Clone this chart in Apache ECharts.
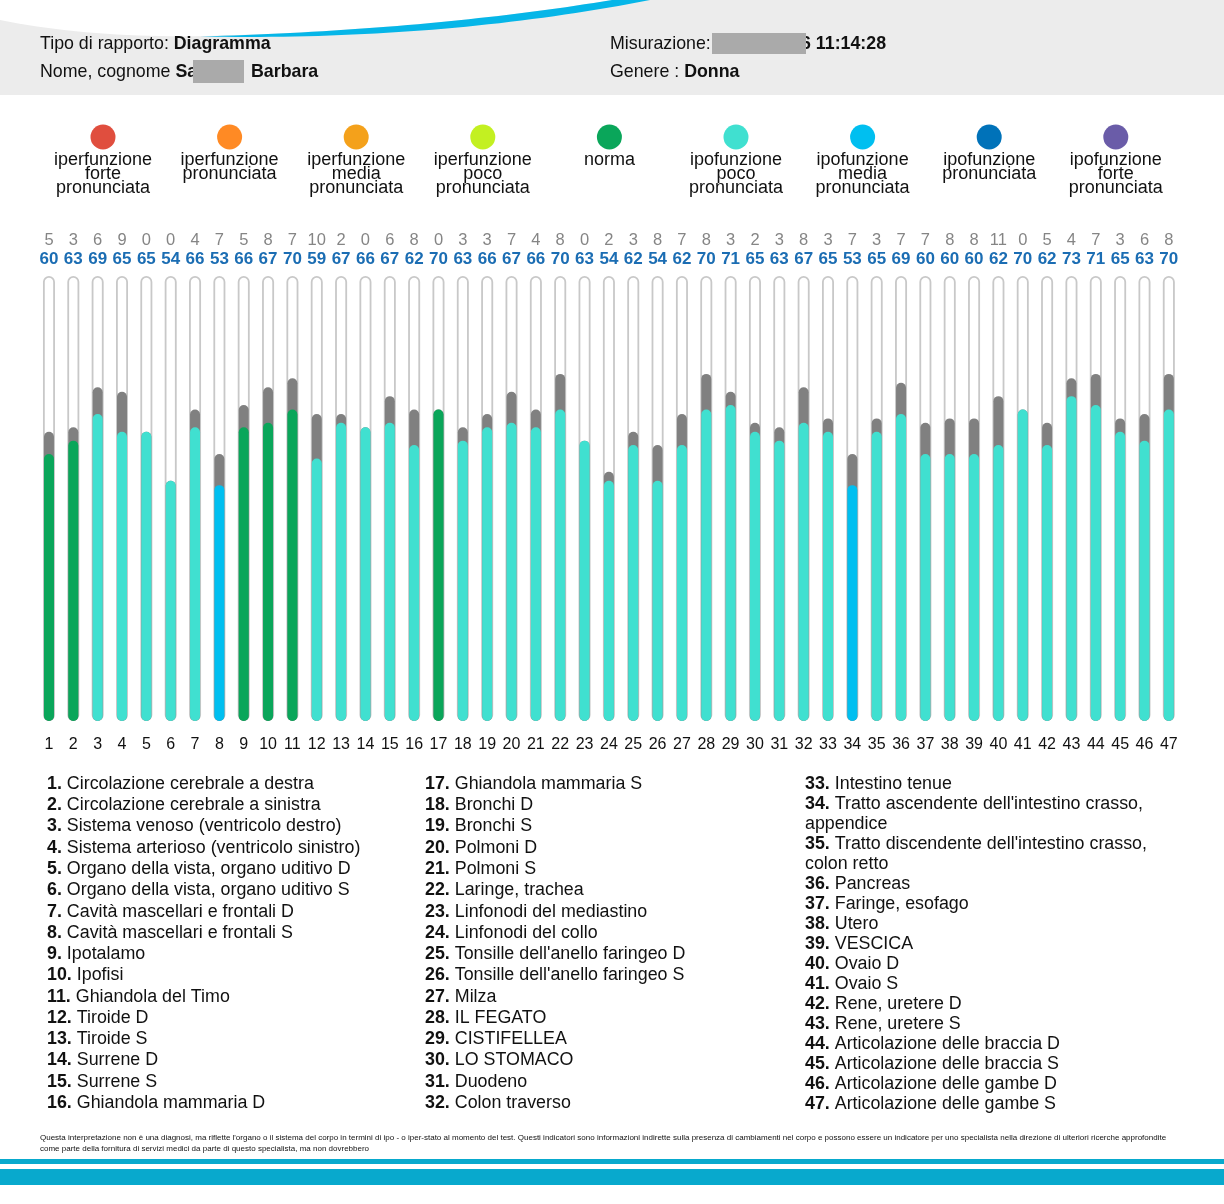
<!DOCTYPE html>
<html><head><meta charset="utf-8">
<script src="https://cdn.jsdelivr.net/npm/echarts@6/dist/echarts.min.js"></script>
<style>html,body{margin:0;padding:0;background:#fff}#c{width:1224px;height:1204px}</style>
</head><body><div id="c"></div>
<script>
// ---------- DATA ----------
const categories = ["1","2","3","4","5","6","7","8","9","10","11","12","13","14","15","16","17","18","19","20","21","22","23","24","25","26","27","28","29","30","31","32","33","34","35","36","37","38","39","40","41","42","43","44","45","46","47"];
const values = [60,63,69,65,65,54,66,53,66,67,70,59,67,66,67,62,70,63,66,67,66,70,63,54,62,54,62,70,71,65,63,67,65,53,65,69,60,60,60,62,70,62,73,71,65,63,70];
const deltas = [5,3,6,9,0,0,4,7,5,8,7,10,2,0,6,8,0,3,3,7,4,8,0,2,3,8,7,8,3,2,3,8,3,7,3,7,7,8,8,11,0,5,4,7,3,6,8];
// index into legend categories (4 = norma, 5 = ipofunzione poco, 6 = ipofunzione media)
const statusIdx = [4,4,5,5,5,5,5,6,4,4,4,5,5,5,5,5,4,5,5,5,5,5,5,5,5,5,5,5,5,5,5,5,5,6,5,5,5,5,5,5,5,5,5,5,5,5,5];
const SCALE_MAX = 100;
const legendNames = ["iperfunzione forte pronunciata","iperfunzione pronunciata","iperfunzione media pronunciata","iperfunzione poco pronunciata","norma","ipofunzione poco pronunciata","ipofunzione media pronunciata","ipofunzione pronunciata","ipofunzione forte pronunciata"];
const legendColors = ["#e04e3e","#ff8a24","#f4a11b","#c3f021","#0aa65a","#40e0d0","#00bff0","#0072b9","#6a5ca8"];
const organNames = ["Circolazione cerebrale a destra","Circolazione cerebrale a sinistra","Sistema venoso (ventricolo destro)","Sistema arterioso (ventricolo sinistro)","Organo della vista, organo uditivo D","Organo della vista, organo uditivo S","Cavità mascellari e frontali D","Cavità mascellari e frontali S","Ipotalamo","Ipofisi","Ghiandola del Timo","Tiroide D","Tiroide S","Surrene D","Surrene S","Ghiandola mammaria D","Ghiandola mammaria S","Bronchi D","Bronchi S","Polmoni D","Polmoni S","Laringe, trachea","Linfonodi del mediastino","Linfonodi del collo","Tonsille dell'anello faringeo D","Tonsille dell'anello faringeo S","Milza","IL FEGATO","CISTIFELLEA","LO STOMACO","Duodeno","Colon traverso","Intestino tenue","Tratto ascendente dell'intestino crasso, appendice","Tratto discendente dell'intestino crasso, colon retto","Pancreas","Faringe, esofago","Utero","VESCICA","Ovaio D","Ovaio S","Rene, uretere D","Rene, uretere S","Articolazione delle braccia D","Articolazione delle braccia S","Articolazione delle gambe D","Articolazione delle gambe S"];
const headerReportLabel = "Tipo di rapporto: ";
const headerReportValue = "Diagramma";
const headerNameLabel = "Nome, cognome ";
const headerNameA = "Sa";
const headerNameB = "Barbara";
const headerMeasureLabel = "Misurazione:";
const headerMeasureValue = "6 11:14:28";
const headerGenderLabel = "Genere : ";
const headerGenderValue = "Donna";
const footerLines = [
  "Questa interpretazione non è una diagnosi, ma riflette l'organo o il sistema del corpo in termini di ipo - o iper-stato al momento del test. Questi indicatori sono informazioni indirette sulla presenza di cambiamenti nel corpo e possono essere un indicatore per uno specialista nella direzione di ulteriori ricerche approfondite",
  "come parte della fornitura di servizi medici da parte di questo specialista, ma non dovrebbero"
];

// ---------- CHART ----------
const FONT = "'Liberation Sans', Arial, Helvetica, sans-serif";
const chart = echarts.init(document.getElementById('c'), null, {renderer: 'canvas'});

function quad(p0, p1, p2, n) {
  const pts = [];
  for (let k = 0; k <= n; k++) {
    const t = k / n, a = (1-t)*(1-t), b = 2*(1-t)*t, c = t*t;
    pts.push([a*p0[0]+b*p1[0]+c*p2[0], a*p0[1]+b*p1[1]+c*p2[1]]);
  }
  return pts;
}
const measureCtx = document.createElement('canvas').getContext('2d');
function textWidth(s, bold, size) {
  measureCtx.font = (bold ? 'bold ' : '') + size + 'px ' + FONT;
  return measureCtx.measureText(s).width;
}

const graphics = [];
graphics.push({type:'rect', shape:{x:0,y:0,width:1224,height:95}, style:{fill:'#ececec'}, z:0});
const whitePts = [[0,0],[0,20]].concat(quad([0,20],[90,38],[205,36],20)).concat(quad([205,36],[430,30],[612,0],40));
graphics.push({type:'polygon', shape:{points:whitePts}, style:{fill:'#ffffff'}, z:1});
const bluePts = quad([200,36.5],[430,30],[612,0],40).concat(quad([650,0],[440,41],[200,36.5],40));
graphics.push({type:'polygon', shape:{points:bluePts}, style:{fill:'#06b6e8'}, z:2});

const HS = 17.8;
const hdrRich = {r:{fontSize:HS, fontFamily:FONT, fill:'#111'}, b:{fontSize:HS, fontFamily:FONT, fontWeight:'bold', fill:'#111'}};
function hdrText(x, y, txt){
  graphics.push({type:'text', x:x, y:y, z:3, style:{text:txt, rich:hdrRich, verticalAlign:'middle', align:'left', fontFamily:FONT, fontSize:HS}});
}
hdrText(40, 44, '{r|' + headerReportLabel + '}{b|' + headerReportValue + '}');
hdrText(40, 72, '{r|' + headerNameLabel + '}{b|' + headerNameA + '}');
hdrText(251, 72, '{b|' + headerNameB + '}');
hdrText(610, 44, '{r|' + headerMeasureLabel + '}');
hdrText(801, 44, '{b|' + headerMeasureValue + '}');
hdrText(610, 72, '{r|' + headerGenderLabel + '}{b|' + headerGenderValue + '}');
graphics.push({type:'rect', shape:{x:712,y:33,width:94,height:21}, style:{fill:'#aaaaaa'}, z:4});
graphics.push({type:'rect', shape:{x:193,y:60,width:51,height:23}, style:{fill:'#aaaaaa'}, z:4});

// legend
legendNames.forEach((name, i) => {
  const cx = 103 + i * 126.6;
  graphics.push({type:'circle', shape:{cx:cx, cy:137, r:12.5}, style:{fill:legendColors[i]}, z:3});
  graphics.push({type:'text', x:cx, y:153, z:3, style:{text:name.split(' ').join('\n'), align:'center', verticalAlign:'top', fontSize:18, lineHeight:14, fontFamily:FONT, fill:'#111'}});
});

// organ list (word-wrapped by measurement)
const LS = 17.85, MAXW = 365;
const cols = [{x:47, from:0, to:16, lh:21.27},{x:425, from:16, to:32, lh:21.27},{x:805, from:32, to:47, lh:20}];
cols.forEach(c => {
  let lineNo = 0;
  for (let i = c.from; i < c.to; i++) {
    const prefix = (i+1) + '. ';
    const words = organNames[i].split(' ');
    const lines = [];
    let cur = '', avail = MAXW - textWidth(prefix, true, LS);
    words.forEach(w => {
      const test = cur ? cur + ' ' + w : w;
      if (cur && textWidth(test, false, LS) > avail) { lines.push(cur); cur = w; avail = MAXW; }
      else cur = test;
    });
    lines.push(cur);
    lines.forEach((ln, k) => {
      const txt = k === 0 ? '{b|' + (i+1) + '.} {r|' + ln + '}' : '{r|' + ln + '}';
      graphics.push({type:'text', x:c.x, y:784 + lineNo * c.lh, z:3,
        style:{text:txt, verticalAlign:'middle', align:'left', fontSize:LS, fontFamily:FONT,
          rich:{b:{fontWeight:'bold', fontSize:LS, fontFamily:FONT, fill:'#111'}, r:{fontSize:LS, fontFamily:FONT, fill:'#111'}}}});
      lineNo++;
    });
  }
});

// footer
footerLines.forEach((t, i) => {
  graphics.push({type:'text', x:40, y:1138 + i*11, z:3, style:{text:t, fontSize:8.0, fontFamily:FONT, fill:'#111', verticalAlign:'middle'}});
});
graphics.push({type:'rect', shape:{x:0,y:1159,width:1224,height:5}, style:{fill:'#08a9cd'}, z:3});
graphics.push({type:'rect', shape:{x:0,y:1169,width:1224,height:16}, style:{fill:'#08a9cd'}, z:3});

const totals = values.map((v, i) => v + deltas[i]);
const trackData = categories.map(() => SCALE_MAX);

const option = {
  animation: false,
  backgroundColor: '#ffffff',
  grid: {left: 36.8, right: 43, top: 276, bottom: 483, containLabel: false},
  xAxis: [
    {type:'category', data:categories, position:'bottom', axisLine:{show:false}, axisTick:{show:false},
     axisLabel:{interval:0, margin:16, fontSize:16, color:'#111', fontFamily:FONT}},
    {type:'category', data:categories, show:false},
    {type:'category', data:categories, position:'top', offset:0, axisLine:{show:false}, axisTick:{show:false},
     axisLabel:{interval:0, margin:8, fontSize:17, fontWeight:'bold', color:'#1b6db3', fontFamily:FONT,
       formatter:(v, idx) => String(values[idx])}},
    {type:'category', data:categories, position:'top', offset:19, axisLine:{show:false}, axisTick:{show:false},
     axisLabel:{interval:0, margin:8, fontSize:16.5, color:'#858585', fontFamily:FONT,
       formatter:(v, idx) => String(deltas[idx])}}
  ],
  yAxis: {type:'value', min:0, max:SCALE_MAX, show:false},
  series: [
    {type:'bar', xAxisIndex:0, data:trackData, barWidth:12, silent:true,
     itemStyle:{color:'#ffffff', borderColor:'#c8c8c8', borderWidth:1.8, borderRadius:6}},
    {type:'bar', xAxisIndex:1, data:totals, barWidth:10, barGap:'-100%', silent:true,
     itemStyle:{color:'#808080', borderRadius:5}},
    {type:'bar', xAxisIndex:1, barWidth:10, barGap:'-100%', silent:true,
     data: values.map((v, i) => ({value:v, itemStyle:{color:legendColors[statusIdx[i]]}})),
     itemStyle:{borderRadius:5}}
  ],
  graphic: {elements: graphics}
};
chart.setOption(option);
</script></body></html>
